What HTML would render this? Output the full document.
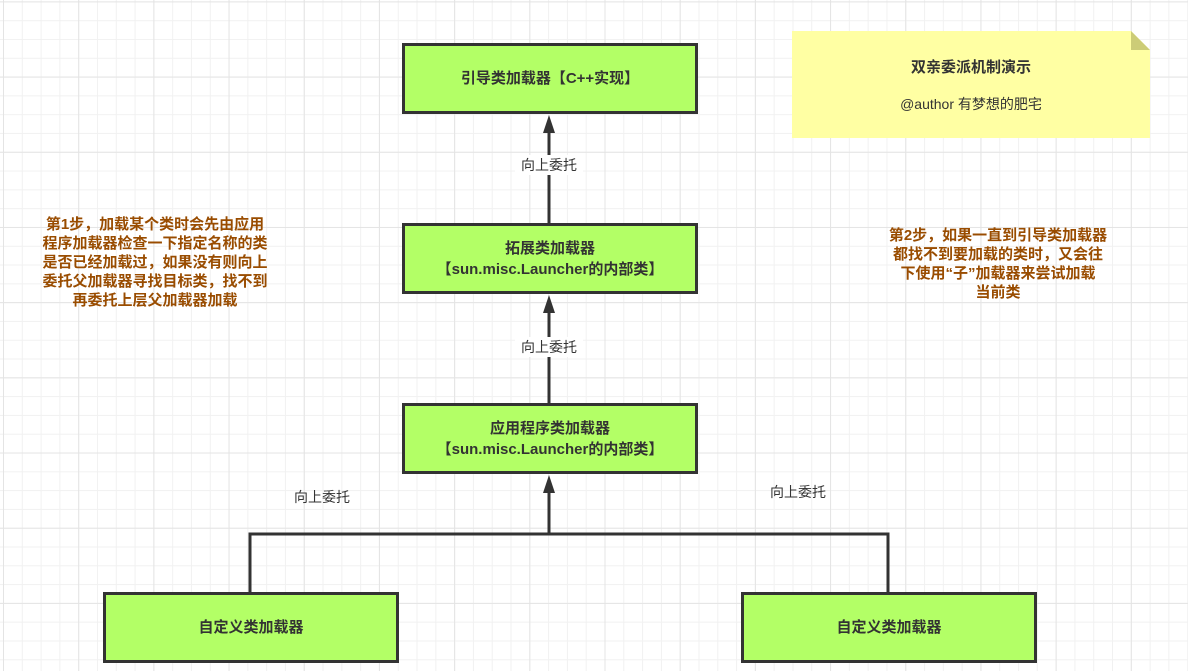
<!DOCTYPE html>
<html><head><meta charset="utf-8"><style>
body{margin:0;width:1188px;height:671px;overflow:hidden;position:relative;font-family:"Liberation Sans","Noto Sans CJK SC",sans-serif;
background-color:#fff;
background-image:linear-gradient(#e4e4e4 1px,transparent 1px),linear-gradient(90deg,#e4e4e4 1px,transparent 1px),linear-gradient(#f1f1f1 1px,transparent 1px),linear-gradient(90deg,#f1f1f1 1px,transparent 1px);
background-size:75.2px 75.2px,75.2px 75.2px,18.8px 18.8px,18.8px 18.8px;
background-position:0 1.4px,3px 0,0 1.4px,3px 0;}
.b{position:absolute;box-sizing:border-box;background:#b3ff66;border:3px solid #333;display:flex;align-items:center;justify-content:center;text-align:center;font-size:15px;font-weight:bold;color:#333;line-height:21px}
.t{position:absolute;font-size:14px;color:#333;background:#fff;text-align:center}
.o{position:absolute;color:#994c00;font-weight:bold;font-size:15px;line-height:19px;text-align:center}
</style></head><body>
<svg width="1188" height="671" style="position:absolute;left:0;top:0">
<g stroke="#333" stroke-width="3" fill="none">
<line x1="549" y1="223" x2="549" y2="130"/>
<line x1="549" y1="403" x2="549" y2="310"/>
<line x1="549" y1="534" x2="549" y2="490"/>
<polyline points="250,592 250,534 888,534 888,592"/>
</g>
<g fill="#333">
<polygon points="549,115 543,133 555,133"/>
<polygon points="549,295 543,313 555,313"/>
<polygon points="549,475 543,493 555,493"/>
</g>
<polygon points="792,31 1131,31 1150,50 1150,138 792,138" fill="#ffffa3"/>
<polygon points="1131,31 1150,50 1131,50" fill="#cccc77"/>
</svg>
<div class="b" style="left:402px;top:43px;width:296px;height:71px">引导类加载器【C++实现】</div>
<div class="b" style="left:402px;top:223px;width:296px;height:71px">拓展类加载器<br>【sun.misc.Launcher的内部类】</div>
<div class="b" style="left:402px;top:403px;width:296px;height:71px">应用程序类加载器<br>【sun.misc.Launcher的内部类】</div>
<div class="b" style="left:103px;top:592px;width:296px;height:71px">自定义类加载器</div>
<div class="b" style="left:741px;top:592px;width:296px;height:71px">自定义类加载器</div>
<div class="t" style="left:515px;top:155px;width:68px">向上委托</div>
<div class="t" style="left:515px;top:337px;width:68px">向上委托</div>
<div class="t" style="left:288px;top:487px;width:68px;background:none">向上委托</div>
<div class="t" style="left:764px;top:482px;width:68px;background:none">向上委托</div>
<div style="position:absolute;left:792px;top:56px;width:358px;text-align:center;font-size:15px;font-weight:bold;color:#333">双亲委派机制演示</div>
<div style="position:absolute;left:792px;top:94px;width:358px;text-align:center;font-size:14px;color:#333">@author 有梦想的肥宅</div>
<div class="o" style="left:20px;top:215px;width:270px">第1步，加载某个类时会先由应用<br>程序加载器检查一下指定名称的类<br>是否已经加载过，如果没有则向上<br>委托父加载器寻找目标类，找不到<br>再委托上层父加载器加载</div>
<div class="o" style="left:868px;top:226px;width:260px">第2步，如果一直到引导类加载器<br>都找不到要加载的类时，又会往<br>下使用“子”加载器来尝试加载<br>当前类</div>
</body></html>
